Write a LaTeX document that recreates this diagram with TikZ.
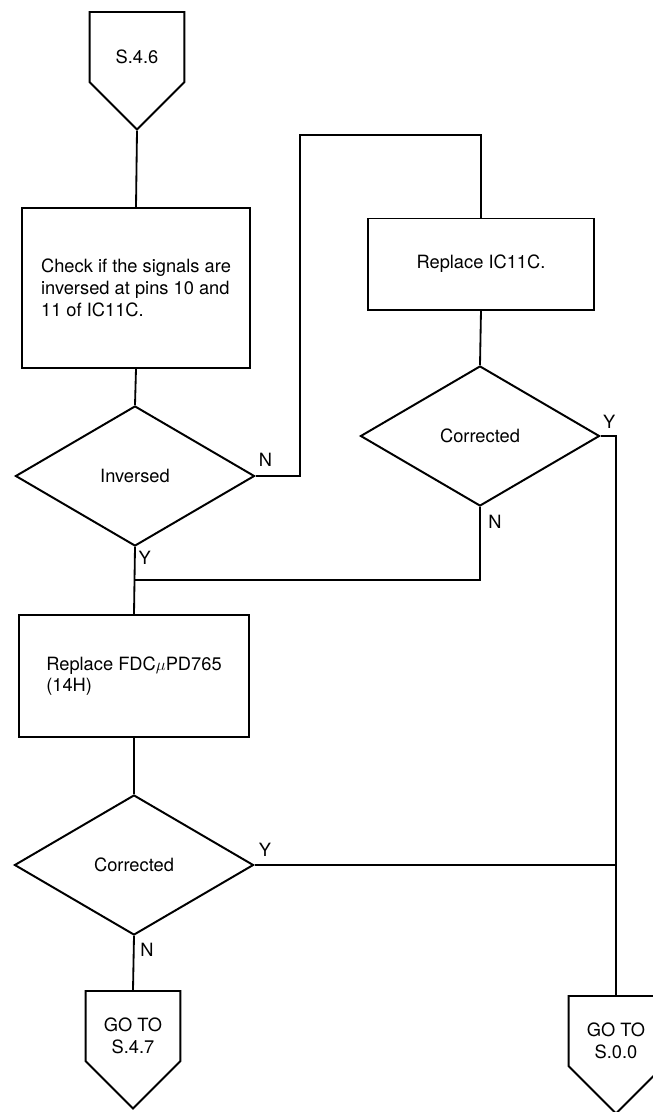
\documentclass[tikz,border=0pt]{standalone}
\usepackage{fontspec}
\setmainfont{TeX Gyre Heros}
\usetikzlibrary{shapes.geometric,shapes.symbols,positioning}
\tikzset{
  flowbox/.style  = {rectangle, draw=black, line width=1.4pt, align=left,
                     font=\fontsize{13}{15.5}\selectfont, inner sep=4pt},
  flowtest/.style = {diamond, draw=black, line width=1.4pt, align=center,
                     font=\fontsize{13}{15.5}\selectfont, inner sep=0pt,
                     minimum width=5.975cm, minimum height=3.5cm},
  flowpage/.style = {signal, signal to=south, signal pointer angle=90,
                     draw=black, line width=1.4pt, inner sep=0pt,
                     minimum width=2.37cm, minimum height=1.75cm},
  pagetxt/.style  = {align=center, font=\fontsize{13}{15.5}\selectfont,
                     inner sep=0pt, yshift=-0.25cm},
  flowline/.style = {draw=black, line width=1.3pt},
  flowyn/.style   = {font=\fontsize{13}{15.5}\selectfont, inner sep=1pt},
}

\begin{document}
\begin{tikzpicture}[x=0.025cm, y=-0.025cm]
  \useasboundingbox (0,0) rectangle (652,1112);

  % left column
  \node[flowpage, label={[pagetxt]center:S.4.6}] (s46) at (137,47) {};
  \node[flowbox, minimum width=5.7cm, minimum height=4cm] (check) at (136,288)
        {Check if the signals are\\inversed at pins 10 and\\11 of IC11C.};
  \node[flowtest] (inv)    at (135,476) {Inversed};
  \node[flowbox, minimum width=5.75cm, minimum height=3.05cm] (repfdc) at (134,676)
        {Replace FDC$\mu$PD765\\(14H)};
  \node[flowtest] (corr2)  at (134,865) {Corrected};
  \node[flowpage, label={[pagetxt]center:GO TO\\S.4.7}] (s47) at (133,1026) {};

  % right column
  \node[flowbox, align=center, minimum width=5.625cm, minimum height=2.275cm] (repic)
        at (481,264) {Replace IC11C.};
  \node[flowtest] (corr1)  at (480,436) {Corrected};
  \node[flowpage, label={[pagetxt]center:GO TO\\S.0.0}] (s00) at (616,1031) {};

  \coordinate (nturn) at (300,135);
  \coordinate (join)  at (135,580);

  % connectors
  \draw[flowline] (s46.south) -- (check.north);
  \draw[flowline] (check.south) -- (inv.north);
  \draw[flowline] (inv.east) -| (nturn) -| (repic.north);
  \draw[flowline] (repic.south) -- (corr1.north);
  \draw[flowline] (corr1.east) -| (s00.north);
  \draw[flowline] (corr1.south) |- (join);
  \draw[flowline] (inv.south) -- (repfdc.north);
  \draw[flowline] (repfdc.south) -- (corr2.north);
  \draw[flowline] (corr2.east) -- (corr2.east -| s00.north);
  \draw[flowline] (corr2.south) -- (s47.north);

  % branch letters
  \node[flowyn, above right=0.2cm and 0.04cm of inv.east]     (invn)   {N};
  \node[flowyn, below right=0.05cm and 0.05cm of inv.south]   (invy)   {Y};
  \node[flowyn, above right=0.15cm and 0.02cm of corr1.east]  (corr1y) {Y};
  \node[flowyn, below right=0.15cm and 0.17cm of corr1.south] (corr1n) {N};
  \node[flowyn, above right=0.18cm and 0.065cm of corr2.east] (corr2y) {Y};
  \node[flowyn, below right=0.13cm and 0.12cm of corr2.south] (corr2n) {N};
\end{tikzpicture}
\end{document}
